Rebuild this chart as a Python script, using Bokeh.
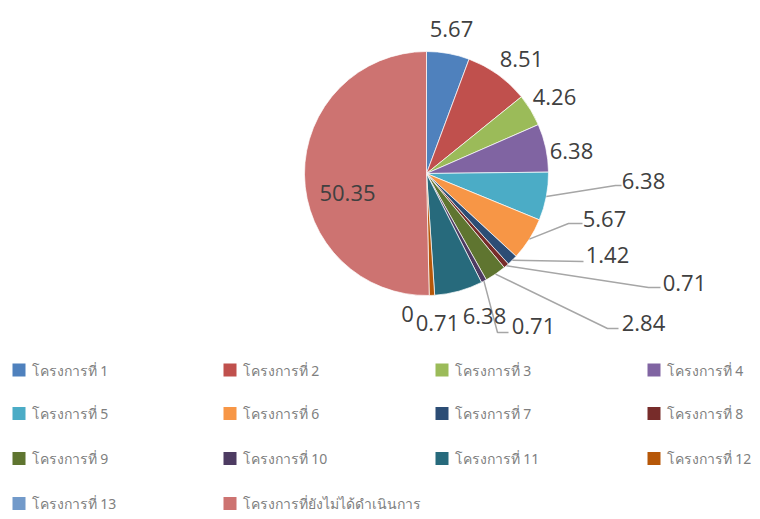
import math
from bokeh.plotting import figure
from bokeh.models import Range1d, ColumnDataSource
from bokeh.core.properties import value
from bokeh.embed import file_html
from bokeh.resources import INLINE

# ---------------- data ----------------
categories = ["โครงการที่ 1", "โครงการที่ 2", "โครงการที่ 3", "โครงการที่ 4",
              "โครงการที่ 5", "โครงการที่ 6", "โครงการที่ 7", "โครงการที่ 8",
              "โครงการที่ 9", "โครงการที่ 10", "โครงการที่ 11", "โครงการที่ 12",
              "โครงการที่ 13", "โครงการที่ยังไม่ได้ดำเนินการ"]
values = [5.67, 8.51, 4.26, 6.38, 6.38, 5.67, 1.42, 0.71, 2.84, 0.71, 6.38, 0.71, 0, 50.35]
label_texts = ["5.67", "8.51", "4.26", "6.38", "6.38", "5.67", "1.42", "0.71",
               "2.84", "0.71", "6.38", "0.71", "0", "50.35"]
colors = ["#4F81BD", "#C0504D", "#9BBB59", "#8064A2", "#4BACC6", "#F79646",
          "#2C4D75", "#772C2A", "#5F7530", "#4D3B62", "#276A7C", "#B65708",
          "#729ACA", "#CD7371"]

# ---------------- layout (page pixel coords) ----------------
W, H = 760, 519
def dx(px): return px
def dy(py): return H - py

CX, CY, R = 426, 173, 122
label_pos = [(451, 28), (521, 58), (554, 96), (571, 150), (643, 180), (604, 218),
             (607, 254), (684, 282), (643, 322), (533, 325), (484, 315), (437, 322),
             (407, 313), (347, 192)]
# leader elbows / ends (None = no leader line)
leader_pts = [None, None, None, None,
              [(615, 185), (621, 185)],
              [(568, 223), (582, 223)],
              [(583, 261)],
              [(648, 287), (660, 287)],
              [(607, 328), (618, 328)],
              [(497, 332), (508, 332)],
              None, None, None, None]

p = figure(width=W, height=H, x_range=Range1d(0, W), y_range=Range1d(0, H),
           output_backend="svg", toolbar_location=None, min_border=0)
p.axis.visible = False
p.grid.visible = False
p.outline_line_color = None
p.background_fill_color = "white"

total = sum(values)
starts, ends, mids = [], [], []
cum = 0.0
for v in values:
    a0 = cum / total * 2 * math.pi
    cum += v
    a1 = cum / total * 2 * math.pi
    starts.append(math.pi / 2 - a0)
    ends.append(math.pi / 2 - a1)
    mids.append((a0 + a1) / 2)

idx = [i for i, v in enumerate(values) if v > 0]
src = ColumnDataSource(dict(
    x=[dx(CX)] * len(idx), y=[dy(CY)] * len(idx),
    s=[starts[i] for i in idx], e=[ends[i] for i in idx],
    c=[colors[i] for i in idx]))
p.wedge(x="x", y="y", radius=R, radius_units="screen", start_angle="s", end_angle="e",
        direction="clock", fill_color="c", line_color="white", line_width=0.7, source=src)

# leader lines
for i, pts in enumerate(leader_pts):
    if pts is None:
        continue
    m = mids[i]
    ex = CX + R * math.sin(m)
    ey = CY - R * math.cos(m)
    xs = [dx(ex)] + [dx(a) for a, b in pts]
    ys = [dy(ey)] + [dy(b) for a, b in pts]
    p.line(xs, ys, line_color="#A6A6A6", line_width=1.5)

# data labels
p.text(x=[dx(a) for a, b in label_pos], y=[dy(b) for a, b in label_pos], text=label_texts,
       text_font=value("Open Sans"), text_font_size="22px", text_color="#404040",
       text_align="center", text_baseline="middle")

# legend
col_x = [12, 223, 435, 647]
row_y = [369.5, 413, 458, 503]
lx, ly = [], []
for i, cat in enumerate(categories):
    r, c = divmod(i, 4)
    lx.append(col_x[c])
    ly.append(row_y[r])
p.rect(x=[dx(a + 6.5) for a in lx], y=[dy(b) for b in ly], width=13, height=13,
       width_units="screen", height_units="screen", fill_color=colors, line_color=None)
p.text(x=[dx(a + 19) for a in lx], y=[dy(b) for b in ly], text=categories,
       text_font=value("Noto Sans"), text_font_size="14px", text_color="#7F7F7F",
       text_align="left", text_baseline="middle")

open("out.html", "w").write(file_html(p, INLINE))
